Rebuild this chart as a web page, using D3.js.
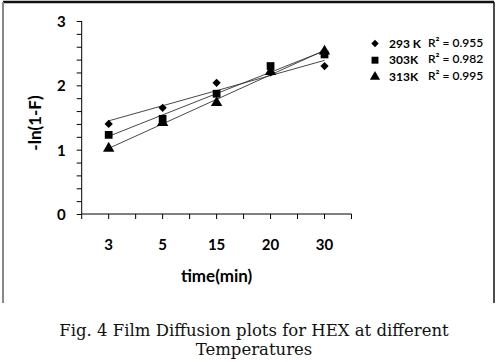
<!DOCTYPE html>
<html>
<head>
<meta charset="utf-8">
<script src="https://cdn.jsdelivr.net/npm/d3@7"></script>
<style>
  body { margin: 0; background: #fff; }
  svg { display: block; }
</style>
</head>
<body>
<svg id="chart" width="500" height="362"></svg>
<script>
// data
var times = ["3", "5", "15", "20", "30"];
var series = ["293 K", "303K", "313K"];
var rSquared = ["R\u00b2 = 0.955", "R\u00b2 = 0.982", "R\u00b2 = 0.995"];
var k293 = [1.40, 1.65, 2.04, 2.20, 2.30];
var k303 = [1.23, 1.48, 1.87, 2.30, 2.48];
var k313 = [1.02, 1.42, 1.73, 2.21, 2.53];
var yTicks = [0, 1, 2, 3];

var svg = d3.select("#chart");
var tickFont = "Lato, 'Open Sans', sans-serif";

// frame round the chart
svg.append("line").attr("x1", 3).attr("x2", 494).attr("y1", 2).attr("y2", 2)
    .style("stroke", "#111").style("stroke-width", 2.5);
svg.append("line").attr("x1", 3).attr("x2", 3).attr("y1", 2).attr("y2", 303)
    .style("stroke", "#888").style("stroke-width", 2);
svg.append("line").attr("x1", 494).attr("x2", 494).attr("y1", 2).attr("y2", 303)
    .style("stroke", "#111").style("stroke-width", 1.5);

var x0 = 81.7, x1 = 351.5, yTop = 21, yBot = 214;

var x = d3.scalePoint().domain(times).range([x0, x1]).padding(0.5);
var y = d3.scaleLinear().domain([0, 3]).range([yBot, yTop]);

// y axis, minor ticks every 0.2
var yAxis = d3.axisLeft(y).tickValues(d3.range(0, 3.01, 0.2)).tickSize(5)
    .tickFormat(function (d) {
        var r = Math.round(d);
        return (Math.abs(d - r) < 1e-6 && yTicks.indexOf(r) >= 0) ? String(r) : "";
    });
var gy = svg.append("g").attr("transform", "translate(" + x0 + ",0)").call(yAxis);
gy.select(".domain").attr("d", "M0," + yTop + "V" + yBot).style("stroke", "#000");
gy.selectAll(".tick line").style("stroke", "#000");
gy.selectAll(".tick text").attr("x", -16).attr("dy", "0.36em")
    .style("font-family", tickFont).style("font-weight", "bold").style("font-size", "15px").style("fill", "#000");

// x axis, ticks at the band edges and centres
var step = x.step();
var xTickPos = d3.range(0, 11).map(function (i) { return x0 + i * step / 2; });
var gx = svg.append("g");
gx.append("line").attr("x1", x0).attr("x2", x1).attr("y1", yBot).attr("y2", yBot).style("stroke", "#000");
gx.selectAll("line.t").data(xTickPos).enter().append("line").attr("class", "t")
    .attr("x1", function (d) { return d; }).attr("x2", function (d) { return d; })
    .attr("y1", yBot).attr("y2", yBot + 5).style("stroke", "#000");
gx.selectAll("text").data(times).enter().append("text")
    .attr("x", function (d) { return x(d); }).attr("y", 250)
    .attr("text-anchor", "middle")
    .style("font-family", tickFont).style("font-weight", "bold").style("font-size", "15px")
    .text(function (d) { return d; });

// axis titles
svg.append("text").attr("x", (x0 + x1) / 2).attr("y", 282).attr("text-anchor", "middle")
    .style("font-family", tickFont).style("font-weight", "bold").style("font-size", "17px")
    .text("time(min)");
svg.append("text").attr("transform", "translate(41,123) rotate(-90)").attr("text-anchor", "middle")
    .style("font-family", tickFont).style("font-weight", "bold").style("font-size", "17px")
    .text("-ln(1-F)");

// linear trendline through each series
function trend(vals) {
    var xs = vals.map(function (v, i) { return i + 1; });
    var mx = d3.mean(xs), my = d3.mean(vals);
    var num = d3.sum(xs, function (xi, i) { return (xi - mx) * (vals[i] - my); });
    var den = d3.sum(xs, function (xi) { return (xi - mx) * (xi - mx); });
    var b = num / den, a = my - b * mx;
    return [a + b * 1, a + b * vals.length];
}

var allSeries = [k293, k303, k313];
// diamond = square turned by 45 degrees
var symbols = [d3.symbolSquare, d3.symbolSquare, d3.symbolTriangle];
var sizes = [34, 60, 56];
var turns = [45, 0, 0];

var lines = svg.append("g");
allSeries.forEach(function (vals) {
    var t = trend(vals);
    lines.append("line")
        .attr("x1", x(times[0])).attr("y1", y(t[0]))
        .attr("x2", x(times[times.length - 1])).attr("y2", y(t[1]))
        .style("stroke", "#333").style("stroke-width", 0.9);
});

var marks = svg.append("g");
allSeries.forEach(function (vals, si) {
    marks.selectAll("path.s" + si).data(vals).enter().append("path")
        .attr("class", "s" + si)
        .attr("d", d3.symbol().type(symbols[si]).size(sizes[si]))
        .attr("transform", function (d, i) { return "translate(" + x(times[i]) + "," + y(d) + ") rotate(" + turns[si] + ")"; })
        .style("fill", "#000");
});

// legend
var legend = svg.append("g");
series.forEach(function (name, i) {
    var ly = 43.5 + i * 16.7;
    legend.append("path").attr("d", d3.symbol().type(symbols[i]).size(sizes[i] * 0.8))
        .attr("transform", "translate(375," + ly + ") rotate(" + turns[i] + ")").style("fill", "#000");
    legend.append("text").attr("x", 389).attr("y", ly + 4)
        .style("font-family", tickFont).style("font-weight", "bold").style("font-size", "12px")
        .text(name);
    legend.append("text").attr("x", 428).attr("y", ly + 3)
        .style("font-family", tickFont).style("font-weight", "600").style("font-size", "12px")
        .text(rSquared[i]);
});

// caption
svg.append("text").attr("x", 254).attr("y", 336).attr("text-anchor", "middle")
    .style("font-family", "'DejaVu Serif', serif").style("font-size", "16.5px").style("fill", "#111")
    .text("Fig. 4 Film Diffusion plots for HEX at different");
svg.append("text").attr("x", 254).attr("y", 355).attr("text-anchor", "middle")
    .style("font-family", "'DejaVu Serif', serif").style("font-size", "16.5px").style("fill", "#111")
    .text("Temperatures");
</script>
</body>
</html>
